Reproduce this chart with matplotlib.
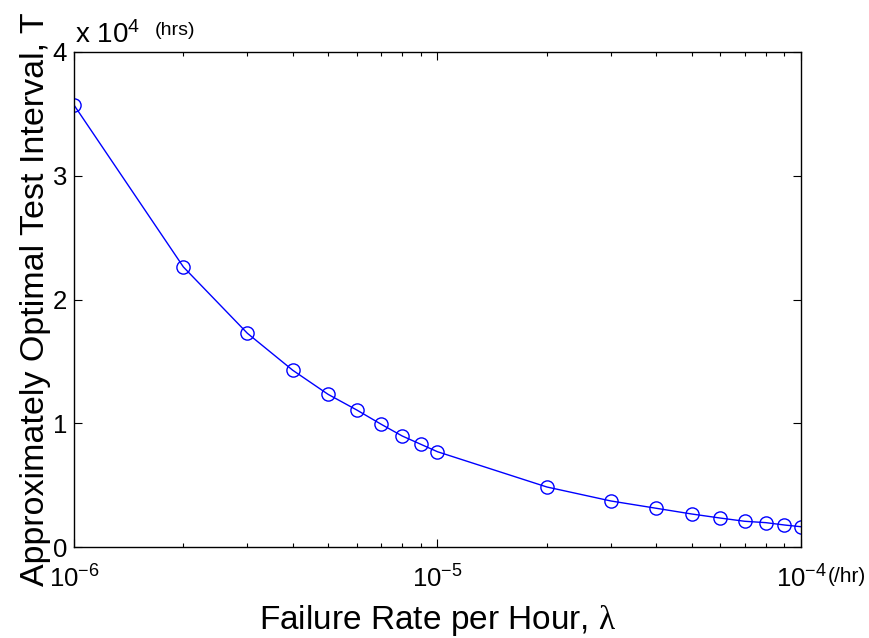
import matplotlib
matplotlib.use("Agg")
import matplotlib.pyplot as plt
import numpy as np

plt.rcParams['font.family'] = ['Liberation Sans', 'DejaVu Sans']
plt.rcParams['mathtext.fontset'] = 'custom'
plt.rcParams['mathtext.rm'] = 'Liberation Serif'
plt.rcParams['mathtext.it'] = 'Liberation Sans'
plt.rcParams['mathtext.bf'] = 'Liberation Serif'

failure_rate = [1e-6, 2e-6, 3e-6, 4e-6, 5e-6, 6e-6, 7e-6, 8e-6, 9e-6,
                1e-5, 2e-5, 3e-5, 4e-5, 5e-5, 6e-5, 7e-5, 8e-5, 9e-5, 1e-4]
test_interval = [3.572, 2.263, 1.727, 1.428, 1.234, 1.107, 0.992, 0.897, 0.830,
                 0.770, 0.485, 0.372, 0.313, 0.267, 0.234, 0.208, 0.197, 0.178, 0.164]
test_interval = [v * 1e4 for v in test_interval]
y_ticks = [0, 1, 2, 3, 4]
x_ticks = [1e-6, 1e-5, 1e-4]
x_tick_labels = [r'$\mathregular{10^{-6}}$', r'$\mathregular{10^{-5}}$', r'$\mathregular{10^{-4}}$']

fig = plt.figure(figsize=(8.7, 6.38), dpi=100)
ax = fig.add_axes([0.085, 0.1426, 0.8357, 0.7759])

ax.plot(failure_rate, test_interval, color=(0, 0, 1), linewidth=1.0,
        marker='o', markersize=9.5, markerfacecolor='none', markeredgecolor=(0, 0, 1),
        markeredgewidth=1.0)

ax.set_xscale('log')
ax.set_xlim(1e-6, 1e-4)
ax.set_ylim(0, 4e4)
ax.set_yticks([v * 1e4 for v in y_ticks])
ax.set_yticklabels([str(v) for v in y_ticks])
ax.set_xticks(x_ticks)
ax.set_xticklabels(x_tick_labels)

ax.tick_params(axis='both', which='both', direction='in', top=True, right=True,
               labelsize=18.5, width=0.8)
ax.tick_params(axis='both', which='major', length=6)
ax.tick_params(axis='y', which='major', pad=5)
ax.tick_params(axis='x', which='major', pad=13)
ax.tick_params(axis='x', which='minor', length=3)
for s in ax.spines.values():
    s.set_linewidth(1.0)

ax.set_xlabel(r'Failure Rate per Hour, $\mathrm{\lambda}$', fontsize=24, labelpad=8)
ax.set_ylabel('Approximately Optimal Test Interval, T', fontsize=24.5, labelpad=1)

fig.text(0.086, 1 - 43 / 638, r'x $\mathregular{10^{4}}$', fontsize=20, ha='left', va='baseline')
fig.text(0.178, 1 - 35 / 638, '(hrs)', fontsize=14, ha='left', va='baseline')
fig.text(0.951, 1 - 582 / 638, '(/hr)', fontsize=15, ha='left', va='baseline')

fig.savefig('out.png', dpi=100)
